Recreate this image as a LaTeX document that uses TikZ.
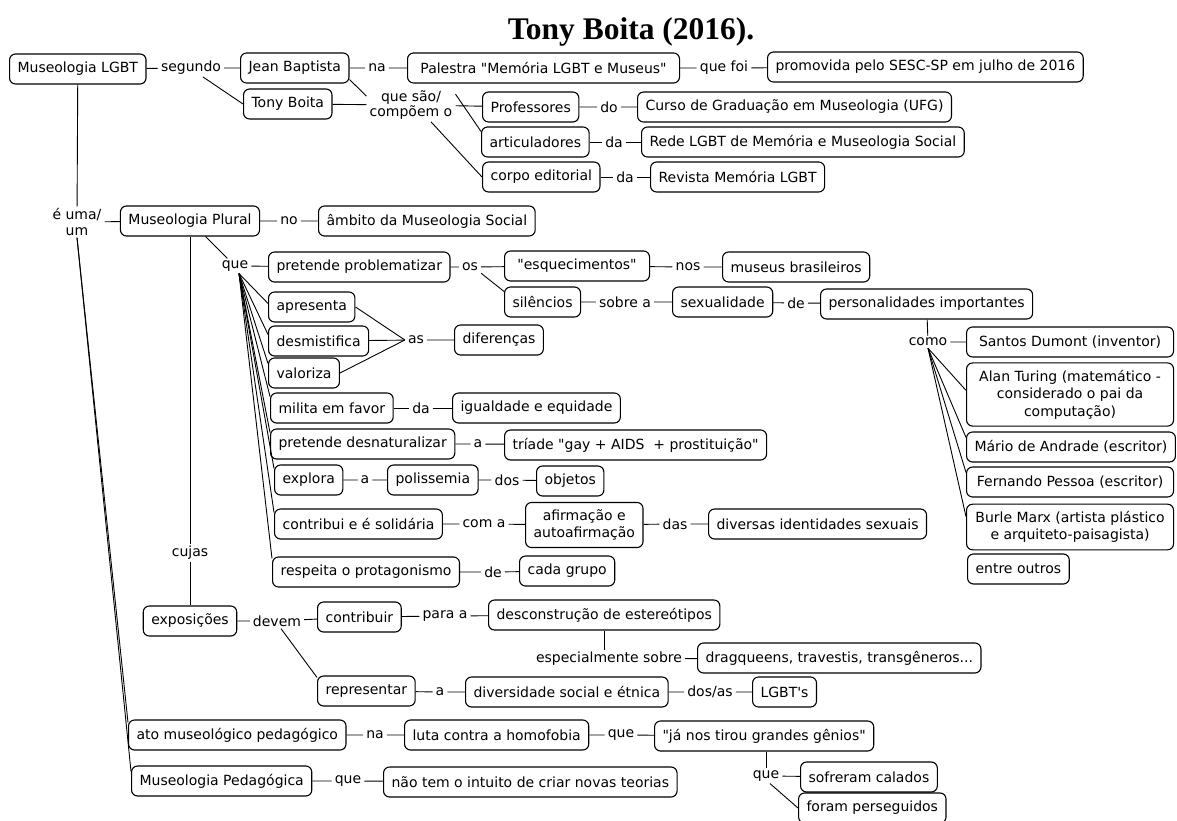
\documentclass[tikz,border=0pt]{standalone}
\usepackage{fontspec}
\newfontfamily\dvs{DejaVu Sans}
\newfontfamily\ttlfont{Liberation Serif}
\newcommand{\mapfont}{\dvs\fontsize{14}{17.5}\selectfont}
\newcommand{\labfont}{\dvs\fontsize{14}{15.5}\selectfont}
\begin{document}
\begin{tikzpicture}[x=1pt,y=-1pt,
  box/.style={draw=black, line width=1.1pt, rounded corners=6pt, fill=white,
    inner xsep=8pt, inner ysep=7pt, minimum height=30pt, align=center, font=\mapfont},
  rbox/.style={box, minimum width=207pt},
  lab/.style={inner xsep=3pt, inner ysep=2pt, align=center, font=\labfont},
  cn/.style={line width=0.9pt, draw=black}]
\path[fill=white] (0,0) rectangle (1177,821);
\useasboundingbox (0,0) rectangle (1177,821);

\node[font=\ttlfont\bfseries\fontsize{31.5}{36}\selectfont, anchor=base] (title) at (631,40) {Tony Boita (2016).};

% row 1
\node[box, anchor=west] (mlgbt) at (9,69) {Museologia LGBT};
\node[lab] (seg) at (191,68) {segundo};
\node[box, anchor=west] (jb) at (240,68) {Jean Baptista};
\node[lab] (na) at (377,68) {na};
\node[box, anchor=west, minimum width=272pt] (pal) at (407,68) {Palestra "Memória LGBT e Museus"};
\node[lab] (qfoi) at (724,68) {que foi};
\node[box, anchor=west] (prom) at (767,67) {promovida pelo SESC-SP em julho de 2016};

% rows 2-4
\node[box, anchor=west] (tb) at (243,104) {Tony Boita};
\node[lab] (qs) at (411,105) {que são/\\compõem o};
\node[box, anchor=west] (prof) at (482,107) {Professores};
\node[lab] (do) at (609,107) {do};
\node[box, anchor=west] (curso) at (637,107) {Curso de Graduação em Museologia (UFG)};
\node[box, anchor=west] (art) at (481,142) {articuladores};
\node[lab] (da1) at (614,142) {da};
\node[box, anchor=west] (rede) at (641,142) {Rede LGBT de Memória e Museologia Social};
\node[box, anchor=west] (ce) at (482,177) {corpo editorial};
\node[lab] (da2) at (625,177) {da};
\node[box, anchor=west] (rev) at (650,177) {Revista Memória LGBT};

% row 5
\node[lab] (eu) at (77,222) {é uma/\\um};
\node[box] (mp) at (190,221) {Museologia Plural};
\node[lab] (no) at (289,221) {no};
\node[box, anchor=west] (amb) at (318,221) {âmbito da Museologia Social};

% que block
\node[lab] (que) at (235,266) {que};
\node[box, anchor=west] (pp) at (268,267) {pretende problematizar};
\node[lab] (os) at (470,267) {os};
\node[box, anchor=west, minimum width=145pt] (esq) at (504,266) {"esquecimentos"};
\node[lab] (nos) at (688,267) {nos};
\node[box, anchor=west] (mus) at (722,267) {museus brasileiros};
\node[box, anchor=west] (sil) at (504,302) {silêncios};
\node[lab] (sob) at (625,302) {sobre a};
\node[box, anchor=west] (sex) at (672,302) {sexualidade};
\node[lab] (de1) at (796,303) {de};
\node[box, anchor=west] (pers) at (820,304) {personalidades importantes};
\node[lab] (como) at (928,342) {como};
\node[rbox, anchor=west] (santos) at (966,342) {Santos Dumont (inventor)};
\node[rbox, anchor=west] (alan) at (966,394.5) {Alan Turing (matemático -\\considerado o pai da\\computação)};
\node[rbox, anchor=west] (mario) at (966,447) {Mário de Andrade (escritor)};
\node[rbox, anchor=west] (fern) at (966,482) {Fernando Pessoa (escritor)};
\node[rbox, anchor=west] (burle) at (966,527) {Burle Marx (artista plástico\\e arquiteto-paisagista)};
\node[box, anchor=west] (entre) at (967,569) {entre outros};

\node[box, anchor=west] (apr) at (268,307) {apresenta};
\node[box, anchor=west] (desm) at (268,341) {desmistifica};
\node[box, anchor=west] (val) at (268,373) {valoriza};
\node[lab] (as) at (416,340) {as};
\node[box, anchor=west] (dif) at (454,340) {diferenças};
\node[box, anchor=west] (mil) at (270,408) {milita em favor};
\node[lab] (da3) at (421,408) {da};
\node[box, anchor=west] (igu) at (452,408) {igualdade e equidade};
\node[box, anchor=west] (pdes) at (270,444) {pretende desnaturalizar};
\node[lab] (a1) at (478,444) {a};
\node[box, anchor=west] (tri) at (504,445) {tríade "gay + AIDS~ + prostituição"};
\node[box, anchor=west] (expl) at (274,480) {explora};
\node[lab] (a2) at (365,480) {a};
\node[box, anchor=west] (pol) at (387,480) {polissemia};
\node[lab] (dos) at (507,480) {dos};
\node[box, anchor=west] (obj) at (536,481) {objetos};
\node[box, anchor=west] (contr) at (274,524) {contribui e é solidária};
\node[lab] (coma) at (484,524) {com a};
\node[box, anchor=west] (afir) at (525,525) {afirmação e\\autoafirmação};
\node[lab] (das) at (675,524) {das};
\node[box, anchor=west] (div) at (708,524) {diversas identidades sexuais};
\node[box, anchor=west] (resp) at (272,572) {respeita o protagonismo};
\node[lab] (de2) at (493,572) {de};
\node[box, anchor=west] (cada) at (519,571) {cada grupo};

% exposicoes
\node[lab] (cujas) at (190,553) {cujas};
\node[box] (expo) at (190,621) {exposições};
\node[lab] (devem) at (277,621) {devem};
\node[box, anchor=west] (ctb) at (317,617) {contribuir};
\node[lab] (paraa) at (445,616) {para a};
\node[box, anchor=west] (desc) at (488,615) {desconstrução de estereótipos};
\node[lab] (esp) at (609,659) {especialmente sobre};
\node[box, anchor=west] (drag) at (697,658) {dragqueens, travestis, transgêneros...};
\node[box, anchor=west] (repr) at (317,691) {representar};
\node[lab] (a3) at (440,692) {a};
\node[box, anchor=west] (divs) at (465,692) {diversidade social e étnica};
\node[lab] (dosas) at (710,692) {dos/as};
\node[box, anchor=west] (lgbts) at (752,692) {LGBT's};

% bottom
\node[box, anchor=west] (ato) at (128,735) {ato museológico pedagógico};
\node[lab] (na2) at (375,735) {na};
\node[box, anchor=west] (luta) at (404,735) {luta contra a homofobia};
\node[lab] (que3) at (621,735) {que};
\node[box, anchor=west] (ja) at (654,736) {"já nos tirou grandes gênios"};
\node[lab] (que4) at (766,776) {que};
\node[box, anchor=west] (sof) at (800,777) {sofreram calados};
\node[box, anchor=west] (foram) at (798,808) {foram perseguidos};
\node[box, anchor=west] (mpd) at (131,781) {Museologia Pedagógica};
\node[lab] (que5) at (348,781) {que};
\node[box, anchor=west] (nao) at (383,782) {não tem o intuito de criar novas teorias};

% connectors
\draw[cn] (mlgbt) -- (seg) -- (jb) -- (na) -- (pal) -- (qfoi) -- (prom);
\draw[cn] ([xshift=12pt]seg.south) -- (tb.west);
\draw[cn] (mlgbt) -- (eu);
\draw[cn] ([yshift=4pt]jb.south east) -- ([yshift=-8pt]qs.north west);
\draw[cn] (tb) -- (qs);
\draw[cn] (qs) -- (prof) -- (do) -- (curso);
\draw[cn] ([yshift=-6pt]qs.north east) -- ([yshift=-5pt]art.north west);
\draw[cn] ([xshift=20pt]qs.south) -- (ce.west);
\draw[cn] (art) -- (da1) -- (rede);
\draw[cn] (ce) -- (da2) -- (rev);

\draw[cn] (eu) -- (mp) -- (no) -- (amb);
\draw[cn] (eu.south) -- ([yshift=-3pt]ato.north west);
\draw[cn] (eu.south) -- ([yshift=-6pt]mpd.north west);
\draw[cn] (mp) -- (cujas) -- (expo);
\draw[cn] (mp) -- (que);
\draw[cn] (que) -- (pp) -- (os) -- (esq) -- (nos) -- (mus);
\draw[cn] (os.south east) -- ([yshift=-5pt]sil.north west);
\draw[cn] (sil) -- (sob) -- (sex) -- (de1) -- (pers);
\draw[cn] (pers) -- (como) -- (santos);
\draw[cn] (como.south) -- ([yshift=-28pt]alan.north west);
\draw[cn] (como.south) -- ([yshift=-6pt]mario.north west);
\draw[cn] (como.south) -- ([yshift=-6pt]fern.north west);
\draw[cn] (como.south) -- ([yshift=-13pt]burle.north west);

\draw[cn] ([xshift=4pt]que.south) -- ([yshift=-12pt]apr.north west);
\draw[cn] ([xshift=4pt]que.south) -- ([yshift=-9pt]desm.north west);
\draw[cn] ([xshift=4pt]que.south) -- ([yshift=-6pt]val.north west);
\draw[cn] ([xshift=4pt]que.south) -- ([yshift=-4pt]mil.north west);
\draw[cn] ([xshift=4pt]que.south) -- ([yshift=-4pt]pdes.north west);
\draw[cn] ([xshift=4pt]que.south) -- ([yshift=-4pt]expl.north west);
\draw[cn] ([xshift=4pt]que.south) -- ([yshift=-4pt]contr.north west);
\draw[cn] ([xshift=4pt]que.south) -- ([yshift=-2pt]resp.north west);

\draw[cn] (apr.east) -- (as.west);
\draw[cn] (desm) -- (as) -- (dif);
\draw[cn] (val.east) -- (as.west);
\draw[cn] (mil) -- (da3) -- (igu);
\draw[cn] (pdes) -- (a1) -- (tri);
\draw[cn] (expl) -- (a2) -- (pol) -- (dos) -- (obj);
\draw[cn] (contr) -- (coma) -- (afir) -- (das) -- (div);
\draw[cn] (resp) -- (de2) -- (cada);

\draw[cn] (expo) -- (devem) -- (ctb) -- (paraa) -- (desc);
\draw[cn] (desc.south) -- (desc.south |- esp.north);
\draw[cn] (esp) -- (drag);
\draw[cn] ([xshift=4pt]devem.south) -- ([yshift=-2pt]repr.north west);
\draw[cn] (repr) -- (a3) -- (divs) -- (dosas) -- (lgbts);

\draw[cn] (ato) -- (na2) -- (luta) -- (que3) -- (ja);
\draw[cn] (que4.north |- ja.south) -- (que4.north);
\draw[cn] (que4) -- (sof);
\draw[cn] ([xshift=4pt]que4.south) -- (foram.west);
\draw[cn] (mpd) -- (que5) -- (nao);
\end{tikzpicture}
\end{document}
